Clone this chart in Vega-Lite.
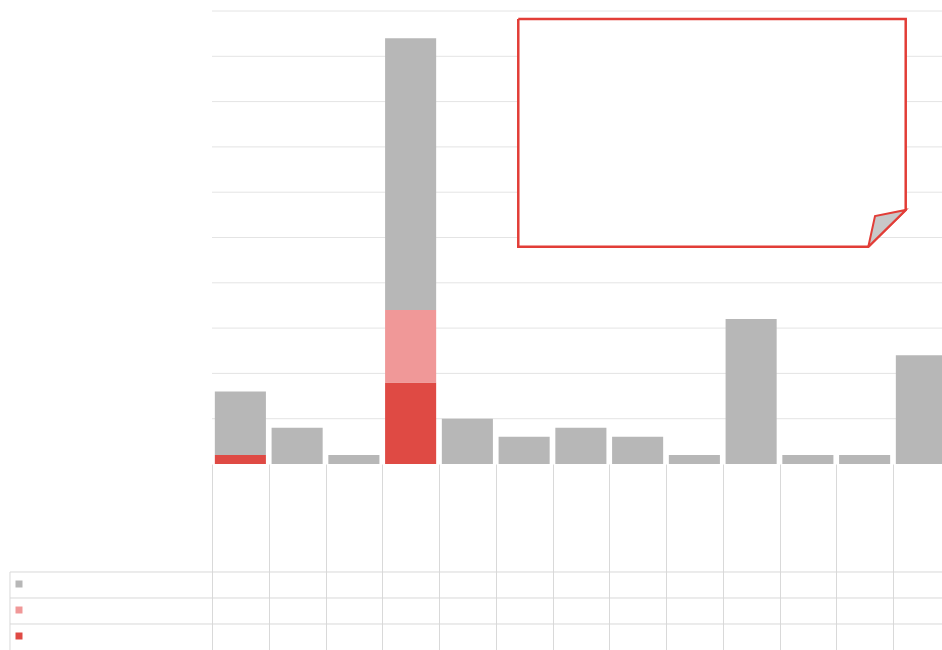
{
  "$schema": "https://vega.github.io/schema/vega-lite/v6.json",
  "width": 730,
  "height": 453,
  "autosize": {"type": "none"},
  "padding": {"left": 212, "top": 11, "right": 0, "bottom": 186},
  "background": "white",
  "config": {"view": {"stroke": null}},
  "datasets": {
    "bars": [
      {"cat": "Cat 1", "series": "A", "value": 1},
      {"cat": "Cat 1", "series": "C", "value": 7},
      {"cat": "Cat 2", "series": "C", "value": 4},
      {"cat": "Cat 3", "series": "C", "value": 1},
      {"cat": "Cat 4", "series": "A", "value": 9},
      {"cat": "Cat 4", "series": "B", "value": 8},
      {"cat": "Cat 4", "series": "C", "value": 30},
      {"cat": "Cat 5", "series": "C", "value": 5},
      {"cat": "Cat 6", "series": "C", "value": 3},
      {"cat": "Cat 7", "series": "C", "value": 4},
      {"cat": "Cat 8", "series": "C", "value": 3},
      {"cat": "Cat 9", "series": "C", "value": 1},
      {"cat": "Cat 10", "series": "C", "value": 16},
      {"cat": "Cat 11", "series": "C", "value": 1},
      {"cat": "Cat 12", "series": "C", "value": 1},
      {"cat": "Cat 13", "series": "C", "value": 12}
    ],
    "grid": [
      {"v": 5}, {"v": 10}, {"v": 15}, {"v": 20}, {"v": 25},
      {"v": 30}, {"v": 35}, {"v": 40}, {"v": 45}, {"v": 50}
    ],
    "tablerows": [
      {"y": -11.92}, {"y": -14.79}, {"y": -17.66}
    ],
    "border": [
      {"y": -11.92, "y2": -20.6}
    ],
    "note": [
      {"seq": 1, "x": 5.397, "y": 49.12},
      {"seq": 2, "x": 12.224, "y": 49.12},
      {"seq": 3, "x": 12.224, "y": 28.04},
      {"seq": 4, "x": 11.565, "y": 23.98},
      {"seq": 5, "x": 5.397, "y": 23.98},
      {"seq": 6, "x": 5.397, "y": 49.12}
    ],
    "fold": [
      {"seq": 1, "x": 11.565, "y": 23.98},
      {"seq": 2, "x": 11.683, "y": 27.37},
      {"seq": 3, "x": 12.224, "y": 28.04},
      {"seq": 4, "x": 11.565, "y": 23.98}
    ]
  },
  "layer": [
    {
      "data": {"name": "grid"},
      "mark": {"type": "rule", "color": "#e4e4e4", "strokeWidth": 1},
      "encoding": {
        "y": {"field": "v", "type": "quantitative", "scale": {"domain": [0, 50]}, "axis": null}
      }
    },
    {
      "data": {"name": "bars"},
      "mark": {"type": "bar", "clip": true, "width": {"band": 0.9}},
      "encoding": {
        "x": {
          "field": "cat", "type": "nominal", "sort": null,
          "scale": {"range": [0, 737.75], "paddingInner": 0, "paddingOuter": 0},
          "axis": {"title": null, "labels": false, "domain": false, "grid": false, "ticks": true, "tickBand": "extent", "tickSize": 186, "tickColor": "#d9d9d9", "tickWidth": 1}
        },
        "y": {"field": "value", "type": "quantitative", "stack": "zero", "scale": {"domain": [0, 50]}, "axis": null},
        "color": {
          "field": "series", "type": "nominal",
          "scale": {"domain": ["C", "B", "A"], "range": ["#b7b7b7", "#f09898", "#df4a44"]},
          "legend": {"orient": "none", "legendX": -198, "legendY": 568, "title": null, "labelExpr": "''", "symbolType": "square", "symbolSize": 49, "rowPadding": 16, "padding": 0, "symbolStrokeWidth": 0, "labelFontSize": 10}
        },
        "order": {"field": "series", "sort": "ascending"}
      }
    },
    {
      "data": {"name": "tablerows"},
      "mark": {"type": "rule", "color": "#d9d9d9"},
      "encoding": {
        "y": {"field": "y", "type": "quantitative", "scale": {"domain": [0, 50]}, "axis": null},
        "x": {"datum": -3.56, "type": "quantitative", "scale": {"domain": [0, 13], "range": [0, 737.75]}, "axis": null},
        "x2": {"datum": 13}
      }
    },
    {
      "data": {"name": "border"},
      "mark": {"type": "rule", "color": "#d9d9d9"},
      "encoding": {
        "y": {"field": "y", "type": "quantitative", "scale": {"domain": [0, 50]}, "axis": null},
        "y2": {"field": "y2"},
        "x": {"datum": -3.56, "type": "quantitative", "scale": {"domain": [0, 13], "range": [0, 737.75]}, "axis": null}
      }
    },
    {
      "data": {"name": "note"},
      "mark": {"type": "line", "fill": "white", "stroke": "#e23d37", "strokeWidth": 2.5, "strokeJoin": "miter", "interpolate": "linear"},
      "encoding": {
        "x": {"field": "x", "type": "quantitative", "scale": {"domain": [0, 13], "range": [0, 737.75]}, "axis": null},
        "y": {"field": "y", "type": "quantitative", "scale": {"domain": [0, 50]}, "axis": null},
        "order": {"field": "seq", "type": "quantitative"}
      }
    },
    {
      "data": {"name": "fold"},
      "mark": {"type": "line", "fill": "#c8c8c8", "stroke": "#e23d37", "strokeWidth": 2, "strokeJoin": "miter", "interpolate": "linear"},
      "encoding": {
        "x": {"field": "x", "type": "quantitative", "scale": {"domain": [0, 13], "range": [0, 737.75]}, "axis": null},
        "y": {"field": "y", "type": "quantitative", "scale": {"domain": [0, 50]}, "axis": null},
        "order": {"field": "seq", "type": "quantitative"}
      }
    }
  ],
  "resolve": {"scale": {"x": "independent"}}
}
